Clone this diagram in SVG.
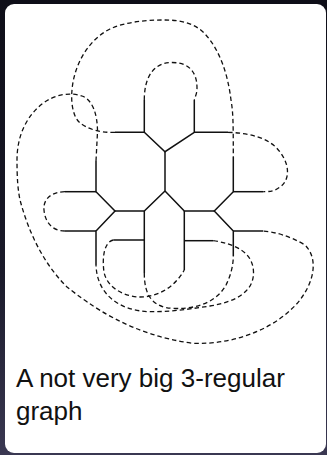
<svg xmlns="http://www.w3.org/2000/svg" width="327" height="455" viewBox="0 0 327 455">
<defs>
<linearGradient id="bg" x1="0" y1="0" x2="0" y2="1">
<stop offset="0" stop-color="#0e0e18"/>
<stop offset="0.6" stop-color="#1a1a2a"/>
<stop offset="1" stop-color="#3a3852"/>
</linearGradient>
</defs>
<style>
.s{stroke:#111;stroke-width:1.5;fill:none;stroke-linecap:butt}
.d{stroke:#111;stroke-width:1.3;fill:none;stroke-dasharray:4.5,3}
.t{font-family:"Liberation Sans",Arial,sans-serif;font-size:26px;fill:#111}
</style>
<rect x="0" y="0" width="327" height="455" fill="url(#bg)"/>
<rect x="5" y="4" width="321" height="449" rx="9" fill="#fff"/>
<g id="connectors">
<g id="solid-edges">
<path class="s" d="M144.3,100 V132.3 H115"/>
<path class="s" d="M144.3,132.3 L165,151.7 L194.3,132.3 V100"/>
<path class="s" d="M194.3,132.3 H228"/>
<path class="s" d="M165,151.7 V191"/>
<path class="s" d="M165,191 L144.3,211 H115"/>
<path class="s" d="M165,191 L184.3,211 H214.3"/>
<path class="s" d="M144.3,211 V273"/>
<path class="s" d="M144.3,240 H113.3"/>
<path class="s" d="M96,161 V191.7 L115,211 L96,231 V265"/>
<path class="s" d="M96,191.7 H65"/>
<path class="s" d="M96,231 H65"/>
<path class="s" d="M184.3,211 V270"/>
<path class="s" d="M184.3,240.7 H213.3"/>
<path class="s" d="M233.3,157 V191.7 L214.3,211 L233.3,231 V256"/>
<path class="s" d="M233.3,191.7 H263.3"/>
<path class="s" d="M233.3,231 H263.3"/>
</g>
<g id="dashed-edges">
<path class="d" d="M144.3,100 C144.3,75 155,62.5 172,62.5 C189,62.5 197,72 197,88 C197,94 195,97 194.3,100"/>
<path class="d" d="M115,132.3 C100,133 88,129 80,123 C72,116 71,100 72,90 C74,65 88,40 110,29 C125,22 145,20 165,20 C180,20 195,23 205,34 C220,50 228,75 231,100 C233,112 233.3,120 233.3,157"/>
<path class="d" d="M96,161 L97.5,132 C97.5,115 93,100 82,96 C70,92 55,94 42,104 C27,116 17,135 17,160 C17,180 18,190 20,200 C28,230 42,262 67,287 C90,305 130,335 193,343.3 C240,345 280,325 300,300 C315,280 318,258 305,245 C290,236 275,232 263.3,231"/>
<path class="d" d="M228,132.3 C250,133 270,138 280,152 C290,165 290,180 280,187 C275,191 270,191.7 263.3,191.7"/>
<path class="d" d="M65,191.7 C50,192 43,200 44,210 C45,222 52,231 65,231"/>
<path class="d" d="M113.3,240 C104,242 102,258 104,272 C107,288 125,297 140,297 C160,297 176,285 184.3,270"/>
<path class="d" d="M144.3,273 C144.3,295 152,308 175,308.5 C200,309 218,300 226,285 C231,275 233.3,265 233.3,256"/>
<path class="d" d="M213.3,240.7 C235,244 253,252 253.5,272 C254,292 235,302 210,306 C190,309 170,312 150,311.7 C120,311 97,295 96,265"/>
</g>
</g>
<g id="caption">
<text class="t" x="16" y="387">A not very big 3-regular</text>
<text class="t" x="16" y="420">graph</text>
</g>
</svg>
